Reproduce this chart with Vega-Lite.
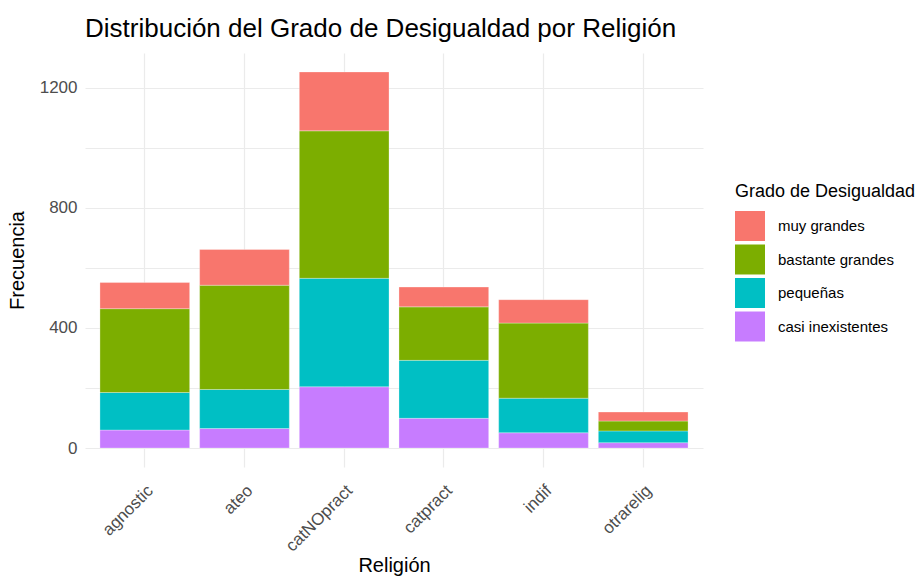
{
  "$schema": "https://vega.github.io/schema/vega-lite/v6.json",
  "width": 618,
  "height": 414,
  "autosize": {"type": "none"},
  "padding": {"left": 85, "top": 53, "right": 219, "bottom": 111},
  "background": "white",
  "title": {
    "text": "Distribución del Grado de Desigualdad por Religión",
    "anchor": "start",
    "frame": "group",
    "fontSize": 26,
    "fontWeight": "normal",
    "font": "Liberation Sans",
    "color": "#000000",
    "offset": 11
  },
  "data": {
    "values": [
      {"religion": "agnostic", "grado": "casi inexistentes", "nivel": 1, "n": 60},
      {"religion": "agnostic", "grado": "pequeñas", "nivel": 2, "n": 125},
      {"religion": "agnostic", "grado": "bastante grandes", "nivel": 3, "n": 279},
      {"religion": "agnostic", "grado": "muy grandes", "nivel": 4, "n": 87},
      {"religion": "ateo", "grado": "casi inexistentes", "nivel": 1, "n": 65},
      {"religion": "ateo", "grado": "pequeñas", "nivel": 2, "n": 130},
      {"religion": "ateo", "grado": "bastante grandes", "nivel": 3, "n": 347},
      {"religion": "ateo", "grado": "muy grandes", "nivel": 4, "n": 119},
      {"religion": "catNOpract", "grado": "casi inexistentes", "nivel": 1, "n": 204},
      {"religion": "catNOpract", "grado": "pequeñas", "nivel": 2, "n": 361},
      {"religion": "catNOpract", "grado": "bastante grandes", "nivel": 3, "n": 491},
      {"religion": "catNOpract", "grado": "muy grandes", "nivel": 4, "n": 196},
      {"religion": "catpract", "grado": "casi inexistentes", "nivel": 1, "n": 99},
      {"religion": "catpract", "grado": "pequeñas", "nivel": 2, "n": 193},
      {"religion": "catpract", "grado": "bastante grandes", "nivel": 3, "n": 178},
      {"religion": "catpract", "grado": "muy grandes", "nivel": 4, "n": 66},
      {"religion": "indif", "grado": "casi inexistentes", "nivel": 1, "n": 51},
      {"religion": "indif", "grado": "pequeñas", "nivel": 2, "n": 115},
      {"religion": "indif", "grado": "bastante grandes", "nivel": 3, "n": 250},
      {"religion": "indif", "grado": "muy grandes", "nivel": 4, "n": 78},
      {"religion": "otrarelig", "grado": "casi inexistentes", "nivel": 1, "n": 18},
      {"religion": "otrarelig", "grado": "pequeñas", "nivel": 2, "n": 39},
      {"religion": "otrarelig", "grado": "bastante grandes", "nivel": 3, "n": 33},
      {"religion": "otrarelig", "grado": "muy grandes", "nivel": 4, "n": 30}
    ]
  },
  "config": {
    "view": {"stroke": null},
    "font": "Liberation Sans",
    "axis": {
      "domain": false,
      "ticks": false,
      "gridColor": "#EBEBEB",
      "gridWidth": 1.2,
      "labelColor": "#4D4D4D",
      "labelFont": "Liberation Sans",
      "labelFontSize": 16,
      "titleFont": "Liberation Sans",
      "titleFontSize": 20,
      "titleFontWeight": "normal",
      "titleColor": "#000000"
    }
  },
  "mark": {"type": "bar", "stroke": "white", "strokeWidth": 0.5, "strokeOpacity": 0.6},
  "encoding": {
    "x": {
      "field": "religion",
      "type": "nominal",
      "title": "Religión",
      "scale": {"paddingInner": 0.1, "paddingOuter": 0.15},
      "axis": {
        "grid": true,
        "bandPosition": 0.5,
        "labelAngle": -45,
        "labelAlign": "right",
        "labelBaseline": "top",
        "labelPadding": 15,
        "labelFontSize": 17,
        "titlePadding": 1
      }
    },
    "y": {
      "field": "n",
      "type": "quantitative",
      "aggregate": "sum",
      "stack": "zero",
      "title": "Frecuencia",
      "scale": {"domain": [-63, 1315], "nice": false, "zero": false},
      "axis": {
        "values": [0, 200, 400, 600, 800, 1000, 1200],
        "labelExpr": "datum.value % 400 === 0 ? datum.label : ''",
        "format": "d",
        "labelPadding": 8,
        "labelFontSize": 17,
        "titlePadding": 12
      }
    },
    "color": {
      "field": "grado",
      "type": "nominal",
      "title": "Grado de Desigualdad",
      "scale": {
        "domain": ["muy grandes", "bastante grandes", "pequeñas", "casi inexistentes"],
        "range": ["#F8766D", "#7CAE00", "#00BFC4", "#C77CFF"]
      },
      "legend": {
        "orient": "none",
        "legendX": 650,
        "legendY": 130,
        "symbolType": "square",
        "symbolSize": 900,
        "symbolStrokeWidth": 0,
        "rowPadding": 3.5,
        "labelFontSize": 15,
        "labelColor": "#000000",
        "labelOffset": 13,
        "labelLimit": 300,
        "titleFontSize": 18,
        "titleLimit": 400,
        "titleFontWeight": "normal",
        "titleColor": "#000000",
        "titlePadding": 10
      }
    },
    "order": {"field": "nivel", "type": "quantitative", "sort": "ascending"}
  }
}
